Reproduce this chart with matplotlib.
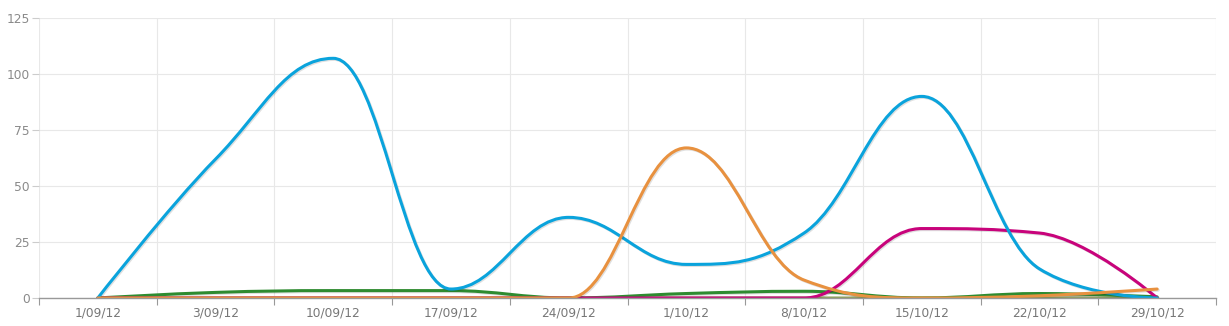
import numpy as np
import matplotlib
matplotlib.use("Agg")
import matplotlib.pyplot as plt
from matplotlib.path import Path
from matplotlib.patches import PathPatch
import matplotlib.patheffects as pe

categories = ["1/09/12", "3/09/12", "10/09/12", "17/09/12", "24/09/12",
              "1/10/12", "8/10/12", "15/10/12", "22/10/12", "29/10/12"]
olive = [0, 0, 0, 0, 0, 0, 0, 0, 0, 0]
green = [0, 2.5, 3.3, 3.3, 0, 2, 3, 0, 2, 0.5]
magenta = [0, 0, 0, 0, 0, 0, 0, 31, 29, 0]
blue = [0, 62, 107, 4, 36, 15, 29, 90, 13, 0]
orange = [0, 0, 0, 0, 0, 67, 8, 0, 1, 4]

series = [(olive, "#8fa05a"), (green, "#2e8b30"), (magenta, "#c8037b"),
          (blue, "#0aa3dc"), (orange, "#e8913f")]


def spline_path(ys):
    n = len(ys)
    xs = list(range(n))
    sm = 1.5
    den = sm + 1
    lc = [None] * n
    rc = [None] * n
    for i in range(n):
        x, y = xs[i], ys[i]
        if 0 < i < n - 1:
            lx, ly = xs[i - 1], ys[i - 1]
            nx, ny = xs[i + 1], ys[i + 1]
            lcx = (sm * x + lx) / den
            lcy = (sm * y + ly) / den
            rcx = (sm * x + nx) / den
            rcy = (sm * y + ny) / den
            corr = 0
            if rcx != lcx:
                corr = (rcy - lcy) * (rcx - x) / (rcx - lcx) + y - rcy
            lcy += corr
            rcy += corr
            if lcy > ly and lcy > y:
                lcy = max(ly, y)
                rcy = 2 * y - lcy
            elif lcy < ly and lcy < y:
                lcy = min(ly, y)
                rcy = 2 * y - lcy
            if rcy > ny and rcy > y:
                rcy = max(ny, y)
                lcy = 2 * y - rcy
            elif rcy < ny and rcy < y:
                rcy = min(ny, y)
                lcy = 2 * y - rcy
            lc[i] = (lcx, lcy)
            rc[i] = (rcx, rcy)
        else:
            lc[i] = (x, y)
            rc[i] = (x, y)
    verts = [(xs[0], ys[0])]
    codes = [Path.MOVETO]
    for i in range(1, n):
        verts += [rc[i - 1], lc[i], (xs[i], ys[i])]
        codes += [Path.CURVE4] * 3
    return Path(verts, codes)


W, H = 1229, 326
fig = plt.figure(figsize=(W / 100, H / 100), dpi=100)
ax = fig.add_axes([39 / W, 28 / H, (1216 - 39) / W, (298 - 18) / H])

ax.set_xlim(-0.5, len(categories) - 0.5)
ax.set_ylim(0, 125)

for ys, col in series:
    p = PathPatch(spline_path(ys), facecolor="none", edgecolor=col, lw=2.2,
                  capstyle="round", joinstyle="round",
                  path_effects=[pe.SimpleLineShadow(offset=(0.8, -0.8), shadow_color="black", alpha=0.12),
                                pe.Normal()])
    ax.add_patch(p)

ax.set_yticks([0, 25, 50, 75, 100, 125])
ax.set_xticks(range(len(categories)))
ax.set_xticklabels(categories)
ax.set_xticks(np.arange(-0.5, len(categories), 1.0), minor=True)

ax.grid(True, axis="y", which="major", color="#e8e8e8", lw=0.8)
ax.grid(True, axis="x", which="minor", color="#e8e8e8", lw=0.8)
ax.set_axisbelow(True)

for s in ["top", "right", "left"]:
    ax.spines[s].set_visible(False)
ax.spines["bottom"].set_color("#999999")
ax.spines["bottom"].set_linewidth(1.0)

ax.tick_params(axis="x", which="major", length=0, pad=6, labelsize=8.8, labelcolor="#777777")
ax.tick_params(axis="x", which="minor", length=5, color="#999999", width=0.8)
ax.tick_params(axis="y", which="major", length=5, color="#cccccc", width=0.8,
               labelsize=8.8, labelcolor="#8a8a8a", pad=1.5)

fig.savefig("out.png", dpi=100)
